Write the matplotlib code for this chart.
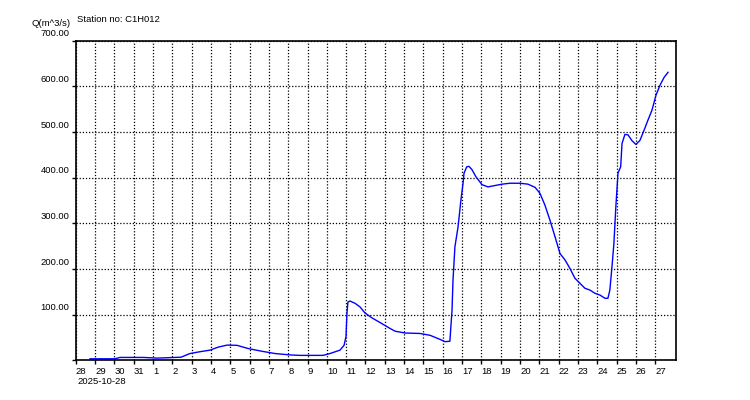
import matplotlib
matplotlib.use("Agg")
import matplotlib.pyplot as plt
import matplotlib.transforms as mtransforms

plt.rcParams['font.family'] = ['Liberation Sans', 'DejaVu Sans']

# days since 2025-10-28 00:00 and discharge in m^3/s
days = [0.74, 2.03, 2.29, 3.5, 4.2, 5.45, 5.91, 6.43, 6.95, 7.37, 7.83, 8.35, 8.92,
        9.64, 10.32, 11.09, 11.61, 12.80, 13.16, 13.68, 13.89, 13.99, 14.04, 14.09,
        14.20, 14.46, 14.72, 14.97, 15.34, 15.75, 16.27, 16.53, 17.05, 17.82, 18.34,
        18.86, 19.12, 19.37, 19.42, 19.48, 19.53, 19.63, 19.79, 19.94, 20.05, 20.10,
        20.24, 20.36, 20.51, 20.72, 21.03, 21.34, 21.70, 22.07, 22.48, 23.00, 23.41,
        23.78, 24.03, 24.29, 24.55, 24.81, 25.07, 25.33, 25.59, 25.84, 26.10, 26.36,
        26.62, 26.88, 27.14, 27.40, 27.55, 27.65, 27.76, 27.86, 27.96, 28.07, 28.21,
        28.28, 28.43, 28.59, 28.80, 29.00, 29.21, 29.42, 29.62, 29.83, 30.04, 30.25,
        30.46, 30.66]
flow = [3.5, 3.5, 6.5, 6.5, 5, 7, 15, 19, 22.5, 29, 33.5, 33, 26,
        20, 15, 12, 11, 11, 15, 22.5, 33, 52, 103, 128,
        130, 125, 117, 104, 93, 83, 70, 64, 60, 59, 55,
        46, 41, 42, 74, 110, 176, 249, 292, 351, 388, 410,
        424, 425, 418, 402, 385, 380, 383, 386, 388, 388, 386,
        379, 366, 340, 307, 271, 234, 220, 201, 180, 169, 158,
        154, 147, 143, 136, 136, 154, 205, 256, 336, 410, 424,
        475, 495, 494, 481, 473, 482, 504, 526, 548, 581, 603,
        620, 631]

day_labels = ['28', '29', '30', '31'] + [str(d) for d in range(1, 28)]
y_ticks = [0, 100, 200, 300, 400, 500, 600, 700]
y_labels = ['', '100.00', '200.00', '300.00', '400.00', '500.00', '600.00', '700.00']

fig = plt.figure(figsize=(7.5, 4), dpi=100)
ax = fig.add_axes([0.101, 0.099, 0.7997, 0.799])

ax.plot(days, flow, color='#0000ff', lw=1.0)

ax.set_xlim(0, 31.05)
ax.set_ylim(0, 700)
ax.set_xticks(range(len(day_labels)))
ax.set_xticklabels(day_labels, ha='left', fontsize=6.8)
ax.set_yticks(y_ticks)
ax.set_yticklabels(y_labels, va='bottom', fontsize=6.8)
ax.tick_params(axis='both', direction='out', length=3, width=1, color='black', pad=1.5)

# lift the y labels a little above their grid lines
lift = mtransforms.ScaledTranslation(0, 0.025, fig.dpi_scale_trans)
for lab in ax.get_yticklabels():
    lab.set_transform(lab.get_transform() + lift)

ax.grid(True, color='black', linestyle=(0, (1, 1.5)), lw=0.9)
for s in ax.spines.values():
    s.set_color('black')
    s.set_linewidth(1.2)

fig.text(0.094, 0.942, 'Q(m^3/s)', ha='right', va='center', fontsize=6.8)
fig.text(0.103, 0.951, 'Station no: C1H012', ha='left', va='center', fontsize=6.8)
fig.text(0.103, 0.046, '2025-10-28', ha='left', va='center', fontsize=6.8)

fig.savefig('out.png', dpi=100)
